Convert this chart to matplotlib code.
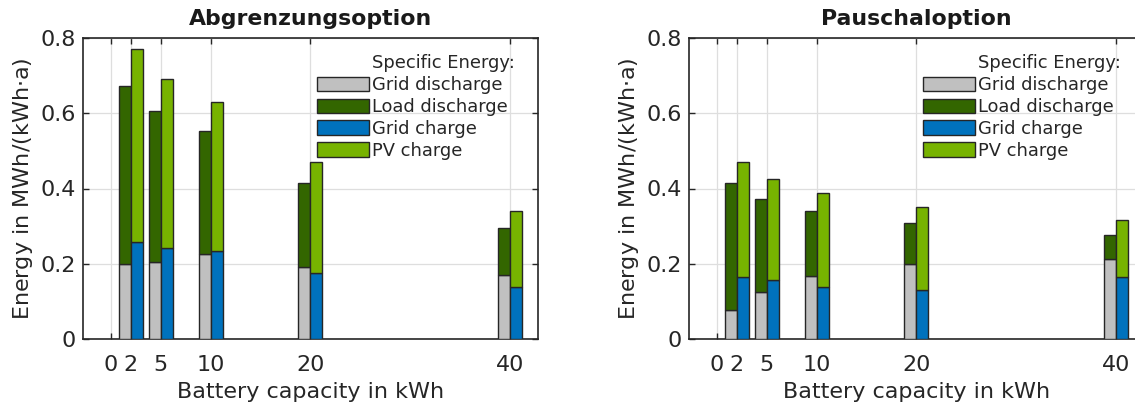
import numpy as np
import matplotlib
matplotlib.use('Agg')
import matplotlib.pyplot as plt
from matplotlib.patches import Patch
from matplotlib.ticker import FuncFormatter

# Battery capacities [kWh]
capacity = [2, 5, 10, 20, 40]
x_ticks = [0, 2, 5, 10, 20, 40]

# Abgrenzungsoption (MWh/(kWh*a))
abg_grid_dis = [0.199, 0.206, 0.226, 0.192, 0.171]
abg_load_dis = [0.474, 0.400, 0.326, 0.222, 0.125]
abg_grid_chg = [0.259, 0.241, 0.233, 0.177, 0.140]
abg_pv_chg = [0.510, 0.450, 0.397, 0.294, 0.199]

# Pauschaloption
pau_grid_dis = [0.078, 0.126, 0.169, 0.199, 0.214]
pau_load_dis = [0.336, 0.247, 0.171, 0.110, 0.063]
pau_grid_chg = [0.166, 0.156, 0.140, 0.131, 0.165]
pau_pv_chg = [0.305, 0.269, 0.249, 0.221, 0.151]

c_grid_dis = '#c0c0c0'
c_load_dis = '#336600'
c_grid_chg = '#0072bd'
c_pv_chg = '#77b300'
ink = '#262626'

plt.rcParams['font.family'] = 'DejaVu Sans'
plt.rcParams['text.color'] = ink

fig = plt.figure(figsize=(11.35, 4.05), dpi=100)
ax1 = fig.add_axes([83/1135, 1-339.3/405, 454.6/1135, 301.6/405])
ax2 = fig.add_axes([689/1135, 1-339.3/405, 454.6/1135, 301.6/405])

w = 1.2
def draw(ax, title, gd, ld, gc, pv):
    x = np.array(capacity, dtype=float)
    kw = dict(width=w, edgecolor=ink, linewidth=1.0, zorder=3)
    ax.bar(x - w/2, gd, color=c_grid_dis, **kw)
    ax.bar(x - w/2, ld, bottom=gd, color=c_load_dis, **kw)
    ax.bar(x + w/2, gc, color=c_grid_chg, **kw)
    ax.bar(x + w/2, pv, bottom=gc, color=c_pv_chg, **kw)

    ax.set_xlim(-2.8, 42.8)
    ax.set_ylim(0, 0.8)
    ax.set_xticks(x_ticks)
    ax.set_yticks([0, 0.2, 0.4, 0.6, 0.8])
    ax.yaxis.set_major_formatter(FuncFormatter(lambda v, p: '0' if v == 0 else f'{v:.1f}'))
    ax.grid(True, color='#dedede', linewidth=0.9, zorder=0)
    ax.set_axisbelow(True)
    ax.tick_params(direction='in', top=True, right=True, length=4, width=1,
                   color=ink, labelcolor=ink, labelsize=16, pad=5)
    ax.tick_params(axis='x', pad=11)
    for s in ax.spines.values():
        s.set_color(ink)
        s.set_linewidth(1.2)
    ax.set_title(title, fontsize=15.8, fontweight='bold', color='#1a1a1a', pad=9)
    ax.set_xlabel('Battery capacity in kWh', fontsize=16, color=ink, labelpad=5)
    ax.set_ylabel('Energy in MWh/(kWh$\\cdot$a)', fontsize=16, color=ink, labelpad=4)

    handles = [Patch(visible=False),
               Patch(facecolor=c_grid_dis, edgecolor=ink),
               Patch(facecolor=c_load_dis, edgecolor=ink),
               Patch(facecolor=c_grid_chg, edgecolor=ink),
               Patch(facecolor=c_pv_chg, edgecolor=ink)]
    labels = ['Specific Energy:', 'Grid discharge', 'Load discharge', 'Grid charge', 'PV charge']
    ax.legend(handles, labels, loc='upper left', bbox_to_anchor=(0.514, 0.945),
              frameon=False, fontsize=12.9, handlelength=2.9, handleheight=0.9,
              labelspacing=0.22, handletextpad=0.2, borderpad=0, borderaxespad=0)

draw(ax1, 'Abgrenzungsoption', abg_grid_dis, abg_load_dis, abg_grid_chg, abg_pv_chg)
draw(ax2, 'Pauschaloption', pau_grid_dis, pau_load_dis, pau_grid_chg, pau_pv_chg)

fig.savefig('out.png', dpi=100)
